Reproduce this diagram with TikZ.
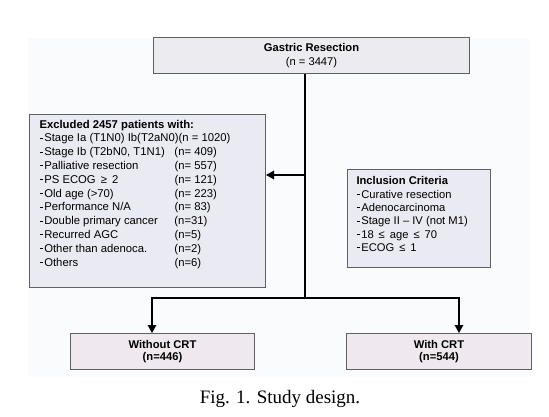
\documentclass[tikz,border=0pt]{standalone}
\usepackage{fontspec}
\setmainfont{Liberation Sans}
\newfontfamily\capfont{Liberation Serif}
\usetikzlibrary{positioning,arrows.meta}

\definecolor{boxline}{RGB}{95,95,100}
\definecolor{topfill}{RGB}{235,235,240}
\definecolor{listfill}{RGB}{234,234,242}
\definecolor{armfill}{RGB}{239,232,238}
\definecolor{bgtint}{RGB}{250,251,253}

\newcommand\itm{\raisebox{0.55ex}{\rule{3.6pt}{1pt}}\hspace{1.2pt}}
\newcommand\crit[1]{\makebox[135pt][l]{\itm #1}}

\begin{document}
\begin{tikzpicture}[x=1pt,y=-1pt,inner sep=0pt,
  box/.style={draw=boxline,line width=1pt,anchor=north west},
  midtext/.style={align=center,font=\fontsize{11.2}{14.5}\selectfont},
  armtext/.style={align=center,font=\bfseries\fontsize{11.2}{12.5}\selectfont},
  arr/.style={-{Triangle[length=8pt,width=8.5pt]},line width=1.3pt}]
\useasboundingbox (0,0) rectangle (549,417);
\fill[bgtint] (28,38) rectangle (530,377);

\node (top) at (153,37) [box,midtext,fill=topfill,minimum width=316pt,minimum height=36pt]
  {\textbf{Gastric Resection}\\(n = 3447)};

\node (excl) at (29,114) [box,fill=listfill,minimum width=236pt,minimum height=173pt]
  {\begin{minipage}[c][173pt][t]{216pt}\fontsize{11.3}{13.8}\selectfont
   \vspace*{5.5pt}\textbf{Excluded 2457 patients with:}\\
   \itm Stage Ia (T1N0) Ib(T2aN0)(n = 1020)\\
   \crit{Stage Ib (T2bN0, T1N1)}(n= 409)\\
   \crit{Palliative resection}(n= 557)\\
   \crit{PS ECOG \,≥\, 2}(n= 121)\\
   \crit{Old age (>70)}(n= 223)\\
   \crit{Performance N/A}(n= 83)\\
   \crit{Double primary cancer}(n=31)\\
   \crit{Recurred AGC}(n=5)\\
   \crit{Other than adenoca.}(n=2)\\
   \crit{Others}(n=6)
   \end{minipage}};

\node (incl) at (347,169) [box,fill=listfill,minimum width=143pt,minimum height=98pt]
  {\begin{minipage}[c][98pt][t]{125pt}\fontsize{11.2}{13.4}\selectfont
   \vspace*{7pt}\textbf{Inclusion Criteria}\\
   \itm Curative resection\\
   \itm Adenocarcinoma\\
   \itm Stage II – IV (not M1)\\
   \itm 18 \,≤\, age \,≤\, 70\\
   \itm ECOG \,≤\, 1
   \end{minipage}};

\node (wo) at (70,333) [box,armtext,fill=armfill,minimum width=184pt,minimum height=36pt]
  {Without CRT\\(n=446)};
\node (w) at (346,333) [box,armtext,fill=armfill,minimum width=185pt,minimum height=36pt]
  {With CRT\\(n=544)};

\node (cap) at (280,399) {\capfont\fontsize{19}{19}\selectfont Fig. 1. Study design.};

\coordinate (tap) at (305,175);
\coordinate (fork) at (305,298);
\coordinate (dropL) at (152,298);
\coordinate (dropR) at (459,298);

\draw[line width=1.3pt] (top.south -| fork) -- (fork);
\draw[arr] (tap) -- (tap -| excl.east);
\draw[arr] (fork) -- (dropL) -- (dropL |- wo.north);
\draw[arr] (fork) -- (dropR) -- (dropR |- w.north);
\end{tikzpicture}
\end{document}
